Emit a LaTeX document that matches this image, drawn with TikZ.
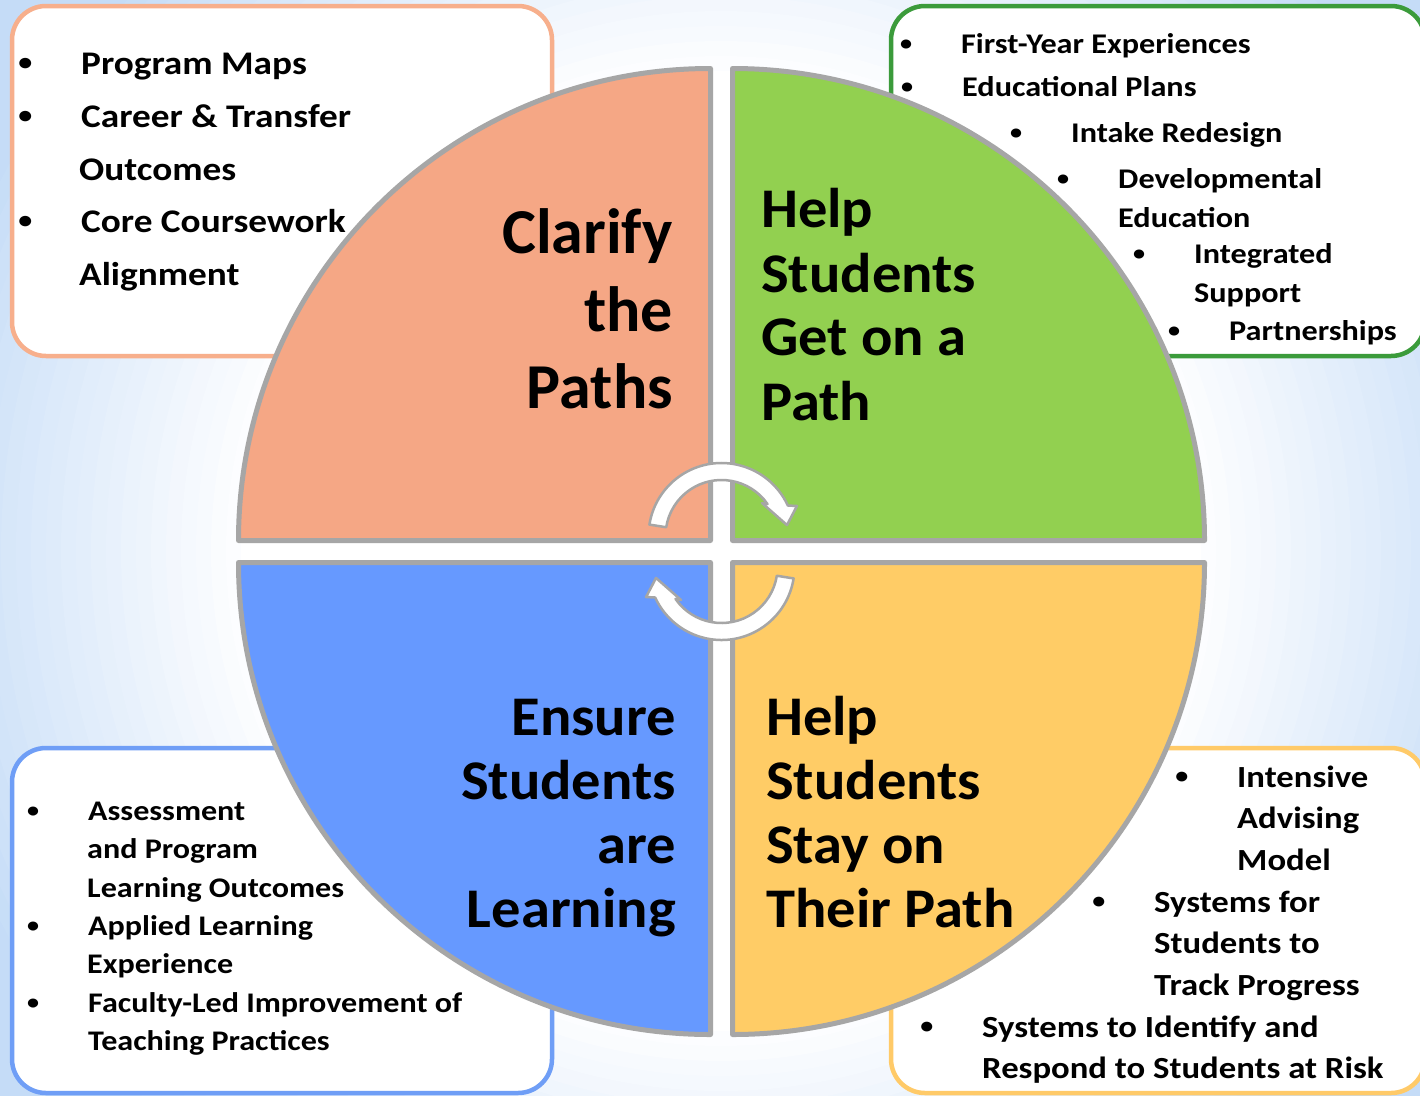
\documentclass[tikz,border=0pt]{standalone}
\usepackage{fontspec}
\setmainfont{Carlito}
\newfontfamily\widefont[FakeStretch=1.13]{Carlito}
\newfontfamily\titlefont[FakeStretch=1.045]{Carlito}
\usepackage{tikz}

\definecolor{pathorange}{HTML}{F5A785}
\definecolor{pathgreen}{HTML}{92D050}
\definecolor{pathblue}{HTML}{6699FF}
\definecolor{pathyellow}{HTML}{FFCC66}
\definecolor{rimgray}{HTML}{A6A6A6}
\definecolor{edgeorange}{HTML}{F7AF8C}
\definecolor{edgegreen}{HTML}{3B9B3B}
\definecolor{edgeblue}{HTML}{6F9EF6}
\definecolor{edgeyellow}{HTML}{FFCA68}
\definecolor{hazedeep}{HTML}{C5DCF7}

\newcommand\blt{\llap{\raisebox{0.1em}{\scalebox{0.75}{\textbullet}}\hspace{49pt}}}

\tikzset{
	quarter/.style={draw=rimgray, line width=5pt, line join=round},
	listbox/.style={fill=white, line width=4.5pt, rounded corners=34pt},
	bigtext/.style={inner sep=0pt, font=\titlefont\bfseries\fontsize{56}{64}\selectfont},
	listline/.style={anchor=base west, inner sep=0pt},
	turnarrow/.pic={
		\filldraw [fill=white, draw=rimgray, line width=2.5pt, line join=round]
			(171:73) arc (171:24.7:73) -- (21.7:81.2) -- (9.5:66.4)
			-- (39.2:52.2) -- (34.8:56) arc (34.8:171:56) -- cycle;
	}
}

\begin{document}
\begin{tikzpicture}[x=1pt, y=1pt]
	\useasboundingbox (0, 0) rectangle (1420, -1095);
	% pale blue halo, white in the middle
	\begin{scope}
		\clip (0, 0) rectangle (1420, -1095);
		\fill [hazedeep] (0, 0) rectangle (1420, -1095);
		\foreach \i in {30,...,1} {
			\pgfmathsetmacro\pct{min(100, 100*\i/23)}
			\fill [hazedeep!\pct!white] (721, -551) circle ({480 + 15*\i});
		}
		\fill [white] (721, -551) circle (480);
	\end{scope}

	% the four lists
	\draw [listbox, draw=edgeorange] (12, -6) rectangle (552, -356);
	\draw [listbox, draw=edgegreen] (891, -6) rectangle (1425, -356);
	\draw [listbox, draw=edgeblue] (12, -748) rectangle (552, -1093);
	\draw [listbox, draw=edgeyellow] (891, -748) rectangle (1425, -1093);

	% quarters of the wheel
	\filldraw [quarter, fill=pathorange] (710.5, -540.5) -- ++(0, 472) arc (90:180:472) -- cycle;
	\filldraw [quarter, fill=pathgreen] (732.5, -540.5) -- ++(472, 0) arc (0:90:472) -- cycle;
	\filldraw [quarter, fill=pathblue] (710.5, -562.5) -- ++(-472, 0) arc (180:270:472) -- cycle;
	\filldraw [quarter, fill=pathyellow] (732.5, -562.5) -- ++(0, -472) arc (270:360:472) -- cycle;

	\pic at (721.5, -536) {turnarrow};
	\pic [rotate=180] at (721.5, -567) {turnarrow};

	% pillar names
	\node [bigtext, anchor=base east, font=\bfseries\fontsize{64}{78}\selectfont] (clar1) at (673, -253) {Clarify};
	\node [bigtext, anchor=base east, font=\bfseries\fontsize{64}{78}\selectfont] (clar2) at (673, -331) {the};
	\node [bigtext, anchor=base east, font=\bfseries\fontsize{64}{78}\selectfont] (clar3) at (673, -408) {Paths};

	\node [bigtext, anchor=base west] (get1) at (761, -227) {Help};
	\node [bigtext, anchor=base west] (get2) at (761, -292) {Students};
	\node [bigtext, anchor=base west] (get3) at (761, -355) {Get on a};
	\node [bigtext, anchor=base west] (get4) at (761, -420) {Path};

	\node [bigtext, anchor=base east] (learn1) at (676, -735) {Ensure};
	\node [bigtext, anchor=base east] (learn2) at (676, -799) {Students};
	\node [bigtext, anchor=base east] (learn3) at (676, -863) {are};
	\node [bigtext, anchor=base east] (learn4) at (676, -927) {Learning};

	\node [bigtext, anchor=base west] (stay1) at (766, -735) {Help};
	\node [bigtext, anchor=base west] (stay2) at (766, -799) {Students};
	\node [bigtext, anchor=base west] (stay3) at (766, -863) {Stay on};
	\node [bigtext, anchor=base west] (stay4) at (766, -927) {Their Path};

	% list items
	\begin{scope}[every node/.append style={font=\widefont\bfseries\fontsize{33}{40}\selectfont}]
		\node [listline] (maps) at (81, -74) {\blt Program Maps};
		\node [listline] (career) at (81, -127) {\blt Career \& Transfer};
		\node [listline] (career2) at (79, -180) {Outcomes};
		\node [listline] (core) at (81, -232) {\blt Core Coursework};
		\node [listline] (core2) at (79, -285) {Alignment};
	\end{scope}

	\begin{scope}[every node/.append style={font=\widefont\bfseries\fontsize{28.5}{34}\selectfont}]
		\node [listline] (fye) at (961, -53) {\blt First-Year Experiences};
		\node [listline] (plans) at (962, -96) {\blt Educational Plans};
		\node [listline] (intake) at (1071, -142) {\blt Intake Redesign};
		\node [listline] (devel) at (1118, -188) {\blt Developmental};
		\node [listline] (devel2) at (1118, -227) {Education};
		\node [listline] (integ) at (1194, -263) {\blt Integrated};
		\node [listline] (integ2) at (1194, -302) {Support};
		\node [listline] (partner) at (1229, -340) {\blt Partnerships};
	\end{scope}

	\begin{scope}[every node/.append style={font=\widefont\bfseries\fontsize{30.7}{36}\selectfont}]
		\node [listline] (advise) at (1237, -787) {\blt Intensive};
		\node [listline] (advise2) at (1237, -828) {Advising};
		\node [listline] (advise3) at (1237, -870) {Model};
		\node [listline] (track) at (1154, -912) {\blt Systems for};
		\node [listline] (track2) at (1154, -953) {Students to};
		\node [listline] (track3) at (1154, -995) {Track Progress};
		\node [listline] (risk) at (982, -1037) {\blt Systems to Identify and};
		\node [listline] (risk2) at (982, -1078) {Respond to Students at Risk};
	\end{scope}

	\begin{scope}[every node/.append style={font=\widefont\bfseries\fontsize{28.4}{34}\selectfont}]
		\node [listline] (assess) at (88, -820) {\blt Assessment};
		\node [listline] (assess2) at (87, -858) {and Program};
		\node [listline] (assess3) at (87, -897) {Learning Outcomes};
		\node [listline] (applied) at (88, -935) {\blt Applied Learning};
		\node [listline] (applied2) at (87, -973) {Experience};
		\node [listline] (faculty) at (88, -1012) {\blt Faculty-Led Improvement of};
		\node [listline] (faculty2) at (88, -1050) {Teaching Practices};
	\end{scope}
\end{tikzpicture}
\end{document}
